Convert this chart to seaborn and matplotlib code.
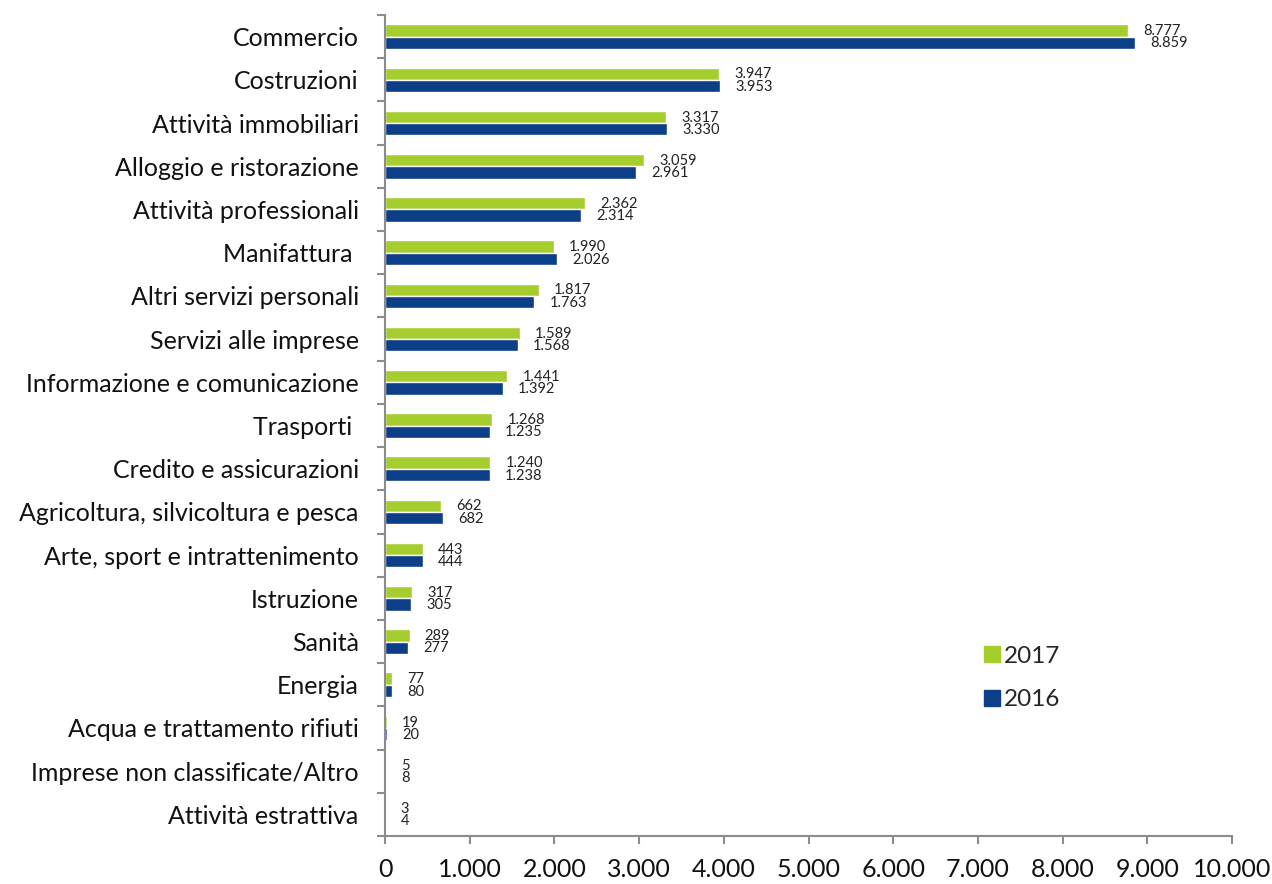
import matplotlib
matplotlib.use("Agg")
import matplotlib.pyplot as plt
import seaborn as sns
import pandas as pd
from matplotlib.lines import Line2D
from matplotlib.ticker import FuncFormatter, FixedLocator

categories = [
    "Commercio",
    "Costruzioni",
    "Attività immobiliari",
    "Alloggio e ristorazione",
    "Attività professionali",
    "Manifattura ",
    "Altri servizi personali",
    "Servizi alle imprese",
    "Informazione e comunicazione",
    "Trasporti ",
    "Credito e assicurazioni",
    "Agricoltura, silvicoltura e pesca",
    "Arte, sport e intrattenimento",
    "Istruzione",
    "Sanità",
    "Energia",
    "Acqua e trattamento rifiuti",
    "Imprese non classificate/Altro",
    "Attività estrattiva",
]
values_2017 = [8777, 3947, 3317, 3059, 2362, 1990, 1817, 1589, 1441, 1268,
               1240, 662, 443, 317, 289, 77, 19, 5, 3]
values_2016 = [8859, 3953, 3330, 2961, 2314, 2026, 1763, 1568, 1392, 1235,
               1238, 682, 444, 305, 277, 80, 20, 8, 4]
years = ["2017", "2016"]
colors = {"2017": "#A5CD2D", "2016": "#0C3F87"}

df = pd.DataFrame({
    "settore": categories * 2,
    "anno": ["2017"] * len(categories) + ["2016"] * len(categories),
    "imprese": values_2017 + values_2016,
})

sns.set_style("white")
plt.rcParams["font.family"] = ["Lato", "DejaVu Sans"]

fig = plt.figure(figsize=(12.72, 8.84), dpi=100)
ax = fig.add_axes([0.3027, 0.0543, 0.6659, 0.9287])

sns.barplot(data=df, y="settore", x="imprese", hue="anno", hue_order=years,
            order=categories, palette=colors, orient="h", width=0.57,
            saturation=1, ax=ax, legend=False)

def it_fmt(v):
    return f"{int(v):,}".replace(",", ".")

# value labels next to each bar
for container in ax.containers:
    for bar in container:
        w = bar.get_width()
        yc = bar.get_y() + bar.get_height() / 2
        ax.annotate(it_fmt(w), xy=(w, yc), xytext=(11, -0.5),
                    textcoords="offset points", ha="left", va="center",
                    fontsize=10.5, color="#222222")

ax.set_xlim(0, 10000)
ax.set_ylim(len(categories) - 0.5, -0.5)
ax.set_xticks(range(0, 10001, 1000))
ax.xaxis.set_major_formatter(FuncFormatter(lambda v, p: it_fmt(v)))
ax.set_xlabel("")
ax.set_ylabel("")

# category ticks sit between groups
ax.yaxis.set_minor_locator(FixedLocator([i - 0.5 for i in range(len(categories) + 1)]))
ax.tick_params(axis="y", which="major", length=0, pad=19, labelsize=18,
               labelcolor="#111111")
ax.tick_params(axis="y", which="minor", length=6, width=1.5, color="#8c8c8c",
               direction="out", left=True)
ax.tick_params(axis="x", which="major", length=6, width=1.5, color="#8c8c8c",
               direction="out", bottom=True, pad=10, labelsize=18,
               labelcolor="#111111")

for side in ["top", "right"]:
    ax.spines[side].set_visible(False)
for side in ["left", "bottom"]:
    ax.spines[side].set_color("#8c8c8c")
    ax.spines[side].set_linewidth(1.5)

handles = [Line2D([0], [0], marker="s", linestyle="none", markersize=11.5,
                  markerfacecolor=colors[y], markeredgecolor=colors[y])
           for y in years]
fig.legend(handles, years, loc="upper left", bbox_to_anchor=(0.755, 0.294),
           frameon=False, fontsize=17.5, labelspacing=0.92, handletextpad=0.1,
           handlelength=0.8)

fig.savefig("out.png", dpi=100, facecolor="white")
